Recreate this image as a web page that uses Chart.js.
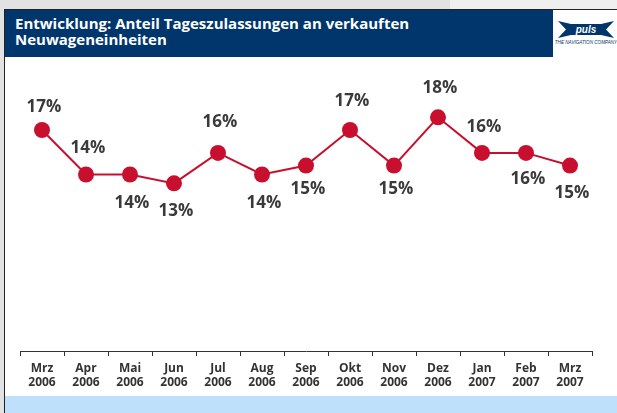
<!DOCTYPE html>
<html lang="de">
<head>
<meta charset="utf-8">
<title>Anteil Tageszulassungen</title>
<script src="https://cdn.jsdelivr.net/npm/chart.js@4.4.1/dist/chart.umd.min.js"></script>
<style>
  html, body { margin: 0; padding: 0; }
  body {
    width: 617px; height: 413px; position: relative; overflow: hidden;
    background: #fff; font-family: 'Open Sans', sans-serif;
  }
  .strip      { position: absolute; left: 0; top: 0; width: 617px; height: 9px; background: #efefef; }
  .strip-dark { position: absolute; left: 0; top: 0; width: 450px; height: 9px; background: #e2e2e2; }
  .side       { position: absolute; left: 0; top: 0; width: 4px; height: 413px; background: #e2e2e2; }
  .frame {
    position: absolute; left: 4px; top: 9px; width: 613px; height: 404px;
    border-left: 1px solid #222; border-top: 1px solid #222; box-sizing: border-box;
  }
  .header {
    position: absolute; left: 5px; top: 10px; width: 548px; height: 47px;
    background: #00366b; color: #fff; font-weight: bold; font-size: 15px; line-height: 16px;
    padding: 5px 0 0 10px; box-sizing: border-box;
  }
  .band  { position: absolute; left: 5px; top: 396px; width: 612px; height: 17px; background: #bee0fb; }
  .logo  { position: absolute; left: 555px; top: 17px; }
  canvas { position: absolute; left: 0; top: 0; }
</style>
</head>
<body>
<div class="strip"></div>
<div class="strip-dark"></div>
<div class="side"></div>
<div class="frame"></div>
<div class="band"></div>
<div class="header">Entwicklung: Anteil Tageszulassungen an verkauften<br>Neuwageneinheiten</div>
<svg class="logo" width="62" height="32" viewBox="0 0 62 32">
  <polygon points="3,4 16,7 46,7 59,4 51,12.5 59,21 46,18 16,18 3,21 11,12.5" fill="#00366b"/>
  <text x="31" y="16" fill="#fff" font-family="Arial, sans-serif" font-size="10" font-weight="bold" font-style="italic" text-anchor="middle">puls</text>
  <text x="31" y="27" fill="#00366b" font-family="Arial, sans-serif" font-size="4.6" font-style="italic" text-anchor="middle">THE NAVIGATION COMPANY</text>
</svg>
<canvas id="chart" width="617" height="413"></canvas>

<script>
  // categories (two-line tick labels)
  const months = ['Mrz', 'Apr', 'Mai', 'Jun', 'Jul', 'Aug', 'Sep', 'Okt', 'Nov', 'Dez', 'Jan', 'Feb', 'Mrz'];
  const years  = ['2006', '2006', '2006', '2006', '2006', '2006', '2006', '2006', '2006', '2006', '2007', '2007', '2007'];

  // share of day registrations in sold new cars, percent
  const shares = [17.4, 13.9, 13.9, 13.2, 15.6, 13.9, 14.6, 17.4, 14.6, 18.4, 15.6, 15.6, 14.6];

  const Y_MIN = 0;
  const Y_MAX = 20;

  // value label placement: vertical offset from the point (px), negative = above
  const labelDy = [-23, -26, 29, 28, -31, 29, 24, -29, 24, -29, -26, 26, 28];

  const RED   = '#c8102e';
  const TEXT  = '#3a3a3a';
  const AXIS  = '#333';
  const FONT  = "'Open Sans', sans-serif";

  const valueLabels = {
    id: 'valueLabels',
    afterDatasetsDraw(chart) {
      const ctx = chart.ctx;
      const meta = chart.getDatasetMeta(0);
      ctx.save();
      ctx.font = 'bold 17px ' + FONT;
      ctx.fillStyle = TEXT;
      ctx.textAlign = 'center';
      ctx.textBaseline = 'middle';
      meta.data.forEach(function (pt, i) {
        ctx.fillText(Math.round(shares[i]) + '%', pt.x + 2, pt.y + labelDy[i]);
      });
      ctx.restore();
    }
  };

  new Chart(document.getElementById('chart'), {
    type: 'line',
    data: {
      labels: months.map(function (m, i) { return [m, years[i]]; }),
      datasets: [{
        data: shares,
        borderColor: RED,
        backgroundColor: RED,
        borderWidth: 2,
        pointRadius: 8,
        pointBackgroundColor: RED,
        pointBorderWidth: 0,
        tension: 0,
        clip: false
      }]
    },
    options: {
      responsive: false,
      animation: false,
      events: [],
      layout: { padding: { top: 97, left: 20, right: 25, bottom: 0 } },
      plugins: { legend: { display: false }, tooltip: { enabled: false } },
      scales: {
        x: {
          offset: true,
          grid: { offset: true, drawOnChartArea: false, drawTicks: true, tickLength: 5, color: AXIS },
          border: { display: true, color: AXIS, width: 1 },
          ticks: {
            color: AXIS, padding: 5, maxRotation: 0, autoSkip: false,
            font: { family: FONT, size: 12, weight: 'bold' }
          },
          afterFit: function (scale) { scale.height = 62; }
        },
        y: { display: false, min: Y_MIN, max: Y_MAX }
      }
    },
    plugins: [valueLabels]
  });
</script>
</body>
</html>
